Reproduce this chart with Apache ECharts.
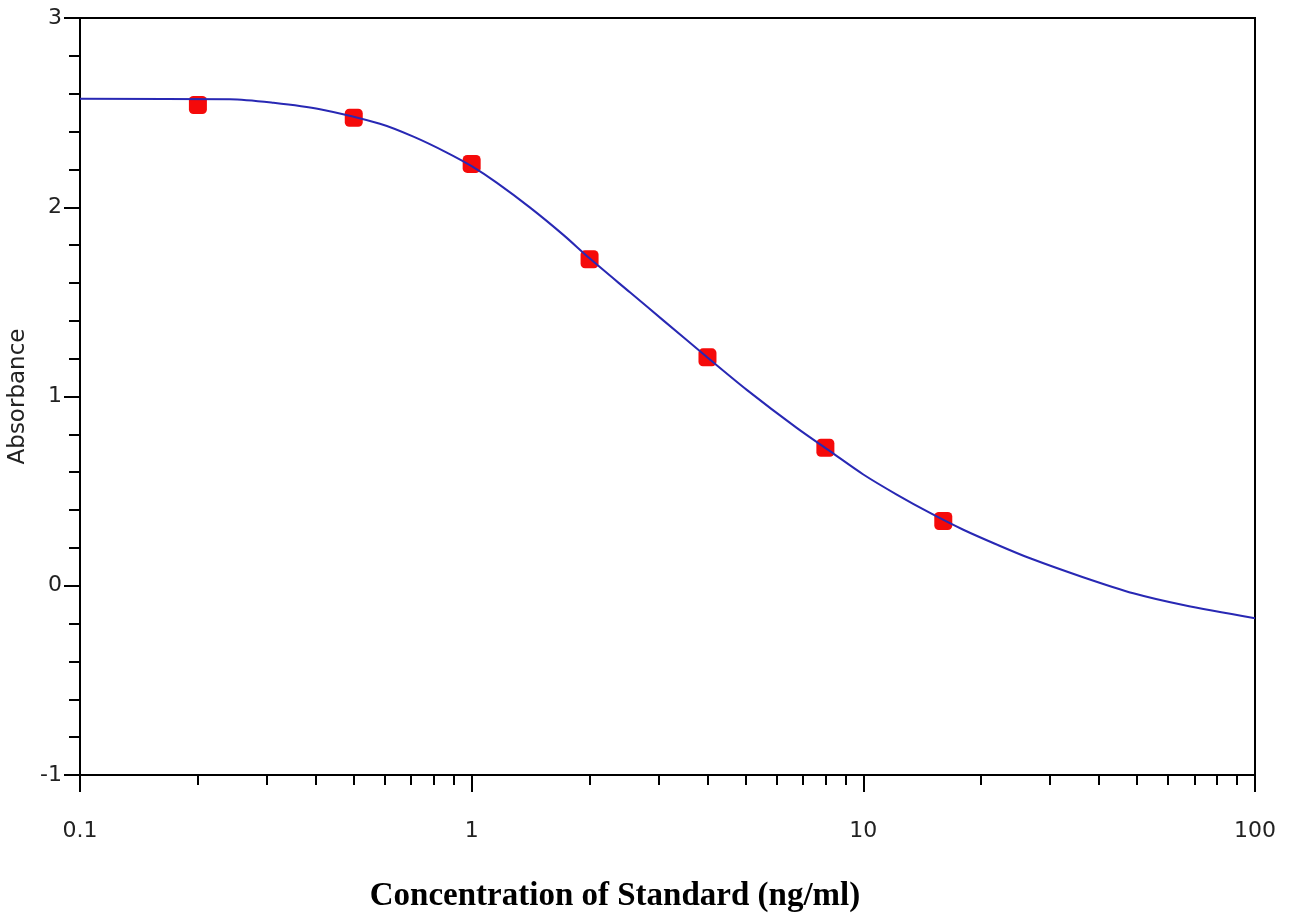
<!DOCTYPE html>
<html>
<head>
<meta charset="utf-8">
<script src="https://cdn.jsdelivr.net/npm/echarts@6/dist/echarts.min.js"></script>
<style>
html,body{margin:0;padding:0;background:#fff;}
#chart{width:1292px;height:921px;}
</style>
</head>
<body>
<div id="chart"></div>
<script>
// Standard points (concentration ng/ml, absorbance)
const stdConc = [0.2, 0.5, 1, 2, 4, 8, 16];
const stdAbs  = [2.54, 2.473, 2.229, 1.725, 1.207, 0.729, 0.342];

// Fitted curve
const curveConc = [0.1, 0.2415, 0.312, 0.41, 0.583, 0.71, 0.864, 1, 1.158, 1.41, 1.714, 2, 2.54, 3.09, 4, 5.04, 6.76, 8.22, 10, 12.17, 14.8, 18, 21.9, 26.65, 36.4, 48.9, 65.6, 100];
const curveAbs  = [2.573, 2.571, 2.552, 2.518, 2.441, 2.373, 2.289, 2.217, 2.130, 1.998, 1.854, 1.730, 1.549, 1.401, 1.206, 1.035, 0.834, 0.711, 0.588, 0.482, 0.385, 0.296, 0.218, 0.145, 0.045, -0.040, -0.102, -0.172];

// Axis ticks
const xMajorTicks = [0.1, 1, 10, 100];
const xMinorTicks = [0.2,0.3,0.4,0.5,0.6,0.7,0.8,0.9,2,3,4,5,6,7,8,9,20,30,40,50,60,70,80,90];

const xTitle = 'Concentration of Standard (ng/ml)';
const yTitle = 'Absorbance';

const sans = '"DejaVu Sans", Verdana, sans-serif';
const chart = echarts.init(document.getElementById('chart'));
chart.setOption({
  animation: false,
  backgroundColor: '#fff',
  grid: { left: 80, right: 37, top: 18, bottom: 146, show: true, borderColor: '#000', borderWidth: 2, containLabel: false, outerBoundsMode: 'none' },
  xAxis: [{
    type: 'log', logBase: 10, min: 0.1, max: 100, position: 'bottom',
    axisLine: { show: true, onZero: false, lineStyle: { color: '#000', width: 2 } },
    axisTick: { show: true, length: 17, lineStyle: { color: '#000', width: 2 }, customValues: xMajorTicks },
    axisLabel: { show: true, margin: 45, fontFamily: sans, fontSize: 22, color: '#222',
      customValues: xMajorTicks, formatter: v => String(v) },
    splitLine: { show: false },
    minorTick: { show: false }
  }, {
    type: 'log', logBase: 10, min: 0.1, max: 100, position: 'bottom',
    axisLine: { show: false, onZero: false },
    axisTick: { show: true, length: 10, lineStyle: { color: '#000', width: 2 }, customValues: xMinorTicks },
    axisLabel: { show: false },
    splitLine: { show: false }
  }],
  yAxis: {
    type: 'value', min: -1, max: 3, interval: 1,
    name: yTitle, nameLocation: 'middle', nameRotate: 90, nameGap: 50, nameMoveOverlap: false,
    nameTextStyle: { fontFamily: sans, fontSize: 23, color: '#222' },
    axisLine: { show: true, onZero: false, lineStyle: { color: '#000', width: 2 } },
    axisTick: { show: true, length: 16, lineStyle: { color: '#000', width: 2 } },
    minorTick: { show: true, splitNumber: 5, length: 11, lineStyle: { color: '#000', width: 2 } },
    axisLabel: { margin: 18, fontFamily: sans, fontSize: 22, color: '#222', formatter: v => String(v) },
    splitLine: { show: false }
  },
  graphic: [{
    type: 'text', x: 615, y: 896,
    style: { text: xTitle, font: 'bold 33px "Liberation Serif", "Times New Roman", serif', fill: '#000', textAlign: 'center', textVerticalAlign: 'middle' }
  }],
  series: [{
    type: 'scatter', xAxisIndex: 0,
    data: stdConc.map((c, i) => [c, stdAbs[i]]),
    symbol: 'roundRect', symbolSize: 18,
    itemStyle: { color: '#f50a0a', opacity: 1 }, z: 2
  }, {
    type: 'line', xAxisIndex: 0,
    data: curveConc.map((c, i) => [c, curveAbs[i]]),
    showSymbol: false, smooth: 0.3,
    lineStyle: { color: '#2828b4', width: 2 }, z: 3
  }]
});
</script>
</body>
</html>
